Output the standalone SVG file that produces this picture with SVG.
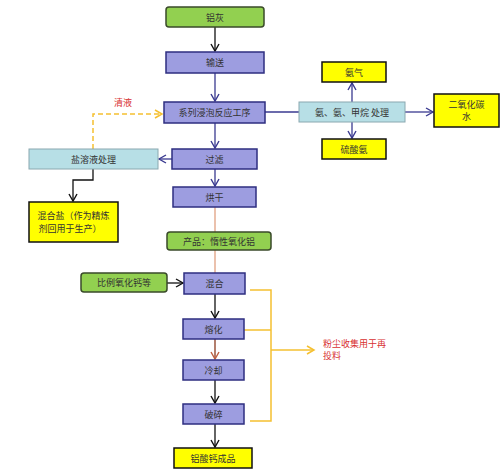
<svg xmlns="http://www.w3.org/2000/svg" width="500" height="474" viewBox="0 0 500 474">
<style>
text{font-family:"Noto Sans CJK SC","Noto Sans CJK JP",sans-serif;font-size:9px;fill:#333;text-anchor:middle;dominant-baseline:central}
.p{fill:#9d9de0;stroke:#2e2e80;stroke-width:1.5}
.g{fill:#92d050;stroke:#3a4a2a;stroke-width:1.5}
.y{fill:#ffff00;stroke:#111;stroke-width:1.5}
.c{fill:#b7dfe6;stroke:#8aa8b0;stroke-width:1}
.red{fill:#d83030}
.lb{stroke:#111;stroke-width:1.3;fill:none}
.ln{stroke:#3a3a90;stroke-width:1.3;fill:none}
.lo{stroke:#e0a080;stroke-width:1.3;fill:none}
.ly{stroke:#f5c030;stroke-width:1.5;fill:none}
</style>
<defs>
<marker id="ab" markerWidth="10" markerHeight="10" refX="8" refY="5" orient="auto" markerUnits="userSpaceOnUse"><path d="M1,1 L8,5 L1,9" fill="none" stroke="#111" stroke-width="1.4"/></marker>
<marker id="an" markerWidth="10" markerHeight="10" refX="8" refY="5" orient="auto" markerUnits="userSpaceOnUse"><path d="M1,1 L8,5 L1,9" fill="none" stroke="#3a3a90" stroke-width="1.4"/></marker>
<marker id="ay" markerWidth="10" markerHeight="10" refX="8" refY="5" orient="auto" markerUnits="userSpaceOnUse"><path d="M1,1 L8,5 L1,9" fill="none" stroke="#f5c030" stroke-width="1.5"/></marker>
<marker id="ar" markerWidth="10" markerHeight="10" refX="8" refY="5" orient="auto" markerUnits="userSpaceOnUse"><path d="M1,1 L8,5 L1,9" fill="none" stroke="#c06040" stroke-width="1.4"/></marker>
</defs>
<rect width="500" height="474" fill="#fff"/>
<g id="connectors">
<line class="lb" x1="215" y1="27" x2="215" y2="51" marker-end="url(#ab)"/>
<line class="ln" x1="215" y1="73" x2="215" y2="101" marker-end="url(#an)"/>
<line class="ln" x1="265" y1="112" x2="299" y2="112"/>
<line class="ln" x1="352" y1="102" x2="352" y2="83" marker-end="url(#an)"/>
<line class="ln" x1="352" y1="122" x2="352" y2="138" marker-end="url(#an)"/>
<line class="ln" x1="405" y1="112" x2="433" y2="112" marker-end="url(#an)"/>
<line class="ln" x1="215" y1="123" x2="215" y2="148" marker-end="url(#an)"/>
<line class="ln" x1="172" y1="159" x2="159" y2="159" marker-end="url(#an)"/>
<line class="ln" x1="215" y1="169" x2="215" y2="186" marker-end="url(#an)"/>
<path class="ly" d="M93,149 V114 H162" stroke-dasharray="5,3" marker-end="url(#ay)"/>
<path class="lb" d="M93,169 V180 H73 V201" marker-end="url(#ab)"/>
<line class="lo" x1="215" y1="207" x2="215" y2="232"/>
<line class="lo" x1="215" y1="250" x2="215" y2="273"/>
<line class="lb" x1="167" y1="283" x2="183" y2="283" marker-end="url(#ab)"/>
<line class="lb" x1="215" y1="294" x2="215" y2="318" marker-end="url(#ab)"/>
<line x1="215" y1="339" x2="215" y2="359" stroke="#8a3a20" stroke-width="1.3" marker-end="url(#ar)"/>
<line class="lb" x1="215" y1="380" x2="215" y2="403" marker-end="url(#ab)"/>
<line class="lb" x1="215" y1="424" x2="215" y2="447" marker-end="url(#ab)"/>
<path class="ly" d="M250,290 H271 V421 H250"/>
<line class="ly" x1="244" y1="330" x2="271" y2="330"/>
<line class="ly" x1="271" y1="350" x2="314" y2="350" marker-end="url(#ay)"/>
</g>
<g id="n-lvhui"><rect class="g" x="166" y="7" width="98" height="20" rx="3"/><text x="215" y="17">铝灰</text></g>
<g id="n-shusong"><rect class="p" x="166" y="52" width="98" height="21"/><text x="215" y="62.5">输送</text></g>
<g id="n-jinpao"><rect class="p" x="164" y="102" width="101" height="21"/><text x="214.5" y="112.5">系列浸泡反应工序</text></g>
<g id="n-qingye"><text class="red" x="123" y="102">清液</text></g>
<g id="n-chuli"><rect class="c" x="299" y="102" width="106" height="20"/><text x="352" y="112">氨、氨、甲烷 处理</text></g>
<g id="n-anqi"><rect class="y" x="322" y="62" width="64" height="20"/><text x="354" y="72">氨气</text></g>
<g id="n-liusuan"><rect class="y" x="322" y="139" width="64" height="20"/><text x="354" y="149">硫酸氨</text></g>
<g id="n-co2"><rect class="y" x="434" y="94" width="65" height="33"/><text x="466.5" y="104">二氧化碳</text><text x="466.5" y="116">水</text></g>
<g id="n-guolv"><rect class="p" x="172" y="149" width="85" height="20"/><text x="214.5" y="159">过滤</text></g>
<g id="n-yanrongye"><rect class="c" x="29" y="149" width="129" height="20"/><text x="93.5" y="159">盐溶液处理</text></g>
<g id="n-hunheyan"><rect class="y" x="29" y="202" width="89" height="40"/><text x="73.5" y="215">混合盐（作为精炼</text><text x="70" y="228">剂回用于生产）</text></g>
<g id="n-honggan"><rect class="p" x="173" y="187" width="83" height="20"/><text x="214.5" y="197">烘干</text></g>
<g id="n-chanpin"><rect class="g" x="167" y="232" width="104" height="18" rx="3"/><text x="219" y="241">产品：惰性氧化铝</text></g>
<g id="n-bili"><rect class="g" x="81" y="273" width="86" height="19" rx="3"/><text x="124" y="282.5">比例氧化钙等</text></g>
<g id="n-hunhe"><rect class="p" x="184" y="273" width="61" height="21"/><text x="214.5" y="283.5">混合</text></g>
<g id="n-ronghua"><rect class="p" x="183" y="319" width="61" height="20"/><text x="213.5" y="329">熔化</text></g>
<g id="n-lengque"><rect class="p" x="183" y="360" width="61" height="20"/><text x="213.5" y="370">冷却</text></g>
<g id="n-posui"><rect class="p" x="183" y="404" width="61" height="20"/><text x="213.5" y="414">破碎</text></g>
<g id="n-chengpin"><rect class="y" x="174" y="448" width="78" height="20"/><text x="213" y="458">铝酸钙成品</text></g>
<g id="n-fenchen"><text class="red" x="323" y="343" style="text-anchor:start">粉尘收集用于再</text><text class="red" x="323" y="355" style="text-anchor:start">投料</text></g>
</svg>
